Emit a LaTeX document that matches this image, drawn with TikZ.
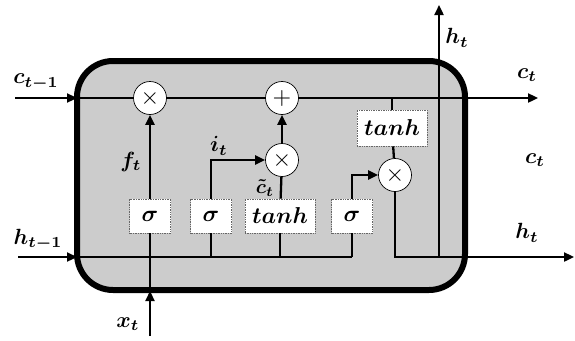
\documentclass[tikz,border=0pt]{standalone}
\usepackage{amsmath,bm,graphicx}
\usetikzlibrary{arrows.meta}
\newcommand\lb[1]{\scalebox{2.2}{$\bm{#1}$}}
\newcommand\gl[1]{\scalebox{2.3}{$\bm{#1}$}}
\newcommand\opsym[1]{\scalebox{2.4}{$#1$}}
\tikzset{
  conn/.style={line width=2.3pt},
  arr/.style={conn,-{Triangle[length=10pt,width=9pt]}},
  op/.style={circle,draw,fill=white,line width=0.7pt,minimum size=33pt,inner sep=0pt},
  gate/.style={draw=gray!80!black,densely dotted,line width=0.7pt,fill=white,minimum height=34pt,inner sep=0pt},
  lbl/.style={inner sep=0pt}
}
\begin{document}
\begin{tikzpicture}[x=1pt,y=-1pt]
\useasboundingbox (0,0) rectangle (575,340);
\draw[line width=6pt,fill=gray!40,rounded corners=36pt] (77,61) rectangle (465,290);
% operators
\node[op] (f) at (150,98) {\opsym{\times}};
\node[op] (plus) at (282,98) {\opsym{+}};
\node[op] (mi) at (282,160) {\opsym{\times}};
\node[op] (mo) at (395,175) {\opsym{\times}};
% gates
\node[gate,minimum width=41pt] (s1) at (150,216) {\gl{\sigma}};
\node[gate,minimum width=41pt] (s2) at (211,216) {\gl{\sigma}};
\node[gate,minimum width=70pt] (tn) at (280,216) {\gl{tanh}};
\node[gate,minimum width=41pt] (s3) at (352,216) {\gl{\sigma}};
\node[gate,minimum width=70pt,minimum height=36pt] (ot) at (392,128) {\gl{tanh}};
% coordinates
\coordinate (cin) at (15,98);
\coordinate (cedge) at (77,98);
\coordinate (cout) at (538,98);
\coordinate (hin) at (18,257);
\coordinate (hedge) at (77,257);
\coordinate (hend) at (352,257);
\coordinate (hout) at (574,257);
\coordinate (xin) at (150,336);
\coordinate (xedge) at (150,291);
\coordinate (vb) at (439,257);
\coordinate (vt) at (439,5);
% cell state
\draw[arr] (cin) -- (cedge);
\draw[conn] (cedge) -- (f) -- (plus);
\draw[arr] (plus) -- (cout);
% hidden input
\draw[arr] (hin) -- (hedge);
\draw[conn] (hedge) -- (hend);
% x input
\draw[arr] (xin) -- (xedge);
\draw[conn] (xedge) -- (s1);
\draw[arr] (s1) -- (f);
% input gate
\draw[conn] (s2 |- hend) -- (s2);
\draw[arr] (s2.north) |- (mi);
\draw[conn] (tn |- hend) -- (tn);
\draw[conn] (tn) -- (mi);
\draw[arr] (mi) -- (plus);
% output gate
\draw[conn] (s3 |- hend) -- (s3);
\draw[arr] (s3.north) |- (mo);
\draw[conn] (ot |- cout) -- (ot);
\draw[conn] (ot) -- (mo);
\draw[arr] (mo) |- (hout);
\draw[arr] (vb) -- (vt);
% labels
\node[lbl] (lc) at (36,82) {\lb{c_{t-1}}};
\node[lbl] (lh) at (38,240) {\lb{h_{t-1}}};
\node[lbl] (lx) at (128,324) {\lb{x_t}};
\node[lbl] (lf) at (131,162) {\lb{f_t}};
\node[lbl] (li) at (219,146) {\lb{i_t}};
\node[lbl] (lct) at (265,188) {\scalebox{2.0}{$\bm{\tilde{c}_t}$}};
\node[lbl] (lht) at (457,38) {\lb{h_t}};
\node[lbl] (lco) at (527,75) {\lb{c_t}};
\node[lbl] (lc2) at (535,160) {\lb{c_t}};
\node[lbl] (lho) at (527,233) {\lb{h_t}};
\end{tikzpicture}
\end{document}
